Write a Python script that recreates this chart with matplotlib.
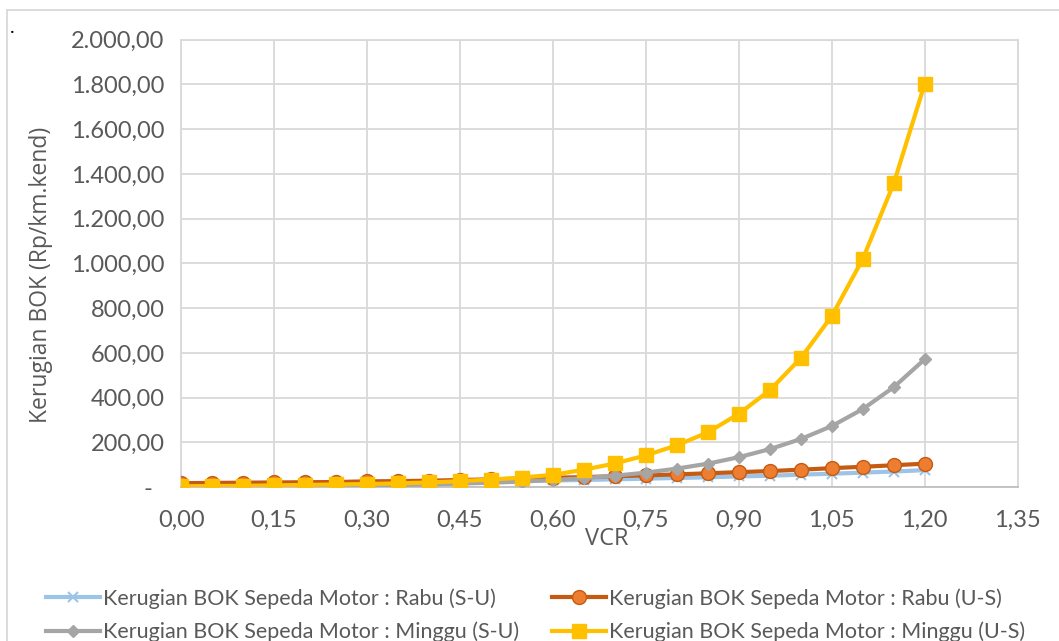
import numpy as np
import matplotlib.pyplot as plt
from matplotlib.ticker import FuncFormatter, MultipleLocator
from matplotlib.lines import Line2D

plt.rcParams['font.family'] = ['Lato', 'DejaVu Sans']

vcr = [0.00, 0.05, 0.10, 0.15, 0.20, 0.25, 0.30, 0.35, 0.40, 0.45, 0.50, 0.55, 0.60,
       0.65, 0.70, 0.75, 0.80, 0.85, 0.90, 0.95, 1.00, 1.05, 1.10, 1.15, 1.20]

# Kerugian BOK (Rp/km.kend) per hari dan arah
rabu_su = [12, 13, 14, 15, 16, 17, 19, 20, 21, 24, 25, 27, 30,
           32, 35, 38, 41, 44, 48, 51, 56, 60, 65, 70, 76]
rabu_us = [18, 19, 20, 21, 22, 23, 26, 27, 29, 32, 35, 38, 42,
           45, 49, 53, 57, 62, 67, 72, 78, 85, 91, 98, 105]
minggu_su = [2, 2, 3, 4, 5, 6, 8, 10, 12, 16, 20, 25, 32,
             40, 51, 65, 83, 105, 134, 170, 215, 273, 349, 447, 572]
minggu_us = [4, 5, 6, 8, 10, 12, 14, 17, 21, 27, 34, 43, 55,
             78, 106, 142, 187, 245, 328, 433, 577, 765, 1020, 1358, 1803]

labels = ['Kerugian BOK Sepeda Motor : Rabu (S-U)',
          'Kerugian BOK Sepeda Motor : Rabu (U-S)',
          'Kerugian BOK Sepeda Motor : Minggu (S-U)',
          'Kerugian BOK Sepeda Motor : Minggu (U-S)']

TEXT = '#595959'
GRID = '#D9D9D9'

fig = plt.figure(figsize=(10.59, 6.41), dpi=100)
ax = fig.add_axes([0.171, 0.240, 0.790, 0.698])

l1, = ax.plot(vcr, rabu_su, color='#9DC3E6', lw=3, marker='x', ms=7, mew=1.5, zorder=3)
l2, = ax.plot(vcr, rabu_us, color='#C55A11', lw=3, marker='o', ms=10,
              mfc='#ED7D31', mec='#C55A11', mew=1, zorder=4)
l3, = ax.plot(vcr, minggu_su, color='#A5A5A5', lw=3, marker='D', ms=6,
              mfc='#A5A5A5', mec='#A5A5A5', zorder=5)
l4, = ax.plot(vcr, minggu_us, color='#FFC000', lw=3, marker='s', ms=10,
              mfc='#FFC000', mec='#FFC000', zorder=6)

ax.set_xlim(0, 1.35)
ax.set_ylim(0, 2000)
ax.xaxis.set_major_locator(MultipleLocator(0.15))
ax.yaxis.set_major_locator(MultipleLocator(200))


def fmt_y(v, pos):
    if v == 0:
        return '-  '
    s = f'{v:,.2f}'
    return s.replace(',', 'X').replace('.', ',').replace('X', '.')


ax.yaxis.set_major_formatter(FuncFormatter(fmt_y))
ax.xaxis.set_major_formatter(FuncFormatter(lambda v, p: f'{v:.2f}'.replace('.', ',')))

ax.grid(True, color=GRID, lw=1.3)
ax.set_axisbelow(True)
for s in ax.spines.values():
    s.set_color(GRID)
    s.set_linewidth(1.3)
ax.spines['bottom'].set_color('#BFBFBF')
ax.tick_params(labelsize=17, colors=TEXT, length=0)
ax.tick_params(axis='y', pad=12)
ax.tick_params(axis='x', pad=16)

ax.set_xlabel('VCR', fontsize=17, color=TEXT, family=['Open Sans', 'DejaVu Sans'])
ax.xaxis.set_label_coords(0.509, -0.088)
ax.set_ylabel('Kerugian BOK (Rp/km.kend)', fontsize=16.5, color=TEXT,
              family=['Open Sans', 'DejaVu Sans'])
ax.yaxis.set_label_coords(-0.153, 0.474)

# legend order: row 1 = Rabu, row 2 = Minggu
handles = [l1, l3, l2, l4]
fig.legend(handles, [labels[0], labels[2], labels[1], labels[3]],
           loc='lower left', bbox_to_anchor=(0.025, -0.032), ncol=2,
           frameon=False, fontsize=15.5, labelcolor=TEXT, handlelength=2.5,
           handletextpad=0.15, columnspacing=1.55, labelspacing=0.6)

# outer chart border (top and left edges)
fig.add_artist(Line2D([7 / 1059, 1], [1 - 10 / 641] * 2, color=GRID, lw=1.3))
fig.add_artist(Line2D([7 / 1059] * 2, [0, 1 - 10 / 641], color=GRID, lw=1.3))
fig.text(10 / 1059, 1 - 33 / 641, '.', fontsize=14, color='black')

fig.savefig('out.png', dpi=100)
